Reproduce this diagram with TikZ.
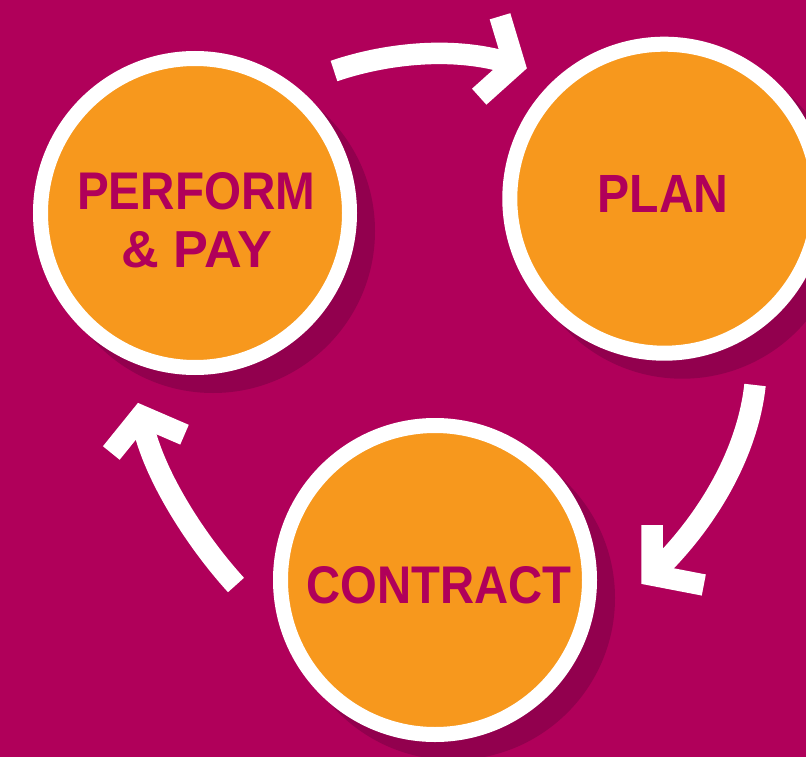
\documentclass[tikz,border=0pt]{standalone}
\usepackage{fontspec}
\setmainfont{Liberation Sans}
\usepackage{graphicx}
\definecolor{bg}{HTML}{B0005A}
\definecolor{orng}{HTML}{F7981D}
\definecolor{shad}{HTML}{92004E}
\definecolor{txt}{HTML}{B0005A}
\begin{document}
\begin{tikzpicture}[x=1pt,y=-1pt,
  disc/.style={circle,draw=white,line width=15pt,fill=orng,minimum size=309pt,inner sep=0pt},
  shadowdisc/.style={circle,fill=shad,minimum size=324pt,inner sep=0pt},
  lbl/.style={inner sep=0pt,anchor=south west,text=txt,font=\bfseries},
  shaft/.style={draw=white,line width=21.5pt,line cap=butt},
  barb/.style={draw=white,line width=21.5pt,line cap=butt,line join=miter}]
\useasboundingbox (0,0) rectangle (806,757);
\clip (0,0) rectangle (806,757);
\fill[bg] (0,0) rectangle (806,757);
% shadows
\node[shadowdisc] (performshadow) at (213,231) {};
\node[shadowdisc] (planshadow) at (682.3,216.7) {};
\node[shadowdisc] (contractshadow) at (453,598) {};
% circles
\node[disc] (perform) at (195,213) {};
\node[disc] (plan) at (664.3,198.7) {};
\node[disc] (contract) at (435,580) {};
% labels
\node[lbl] (performA) at (77,210) {\resizebox{238pt}{37pt}{PERFORM}};
\node[lbl] (performB) at (121,268) {\resizebox{151pt}{36pt}{\& PAY}};
\node[lbl] (planlabel) at (597.3,212.7) {\resizebox{131pt}{37pt}{PLAN}};
\node[lbl] (contractlabel) at (306,604) {\resizebox{265pt}{37pt}{CONTRACT}};
% arrow perform -> plan
\coordinate (t1) at (334,71);
\coordinate (v1) at (514.6,64.9);
\coordinate (a1) at (500,16.3);
\coordinate (b1) at (479.2,96.7);
\draw[shaft] (t1) .. controls (390,52) and (460,46) .. (v1);
\draw[barb] (a1) -- (v1) -- (b1);
% arrow plan -> contract
\coordinate (t2) at (755,385);
\coordinate (v2) at (652,575);
\coordinate (a2) at (652,525);
\coordinate (b2) at (703.8,585);
\draw[shaft] (t2) .. controls (748,450) and (710,520) .. (v2);
\draw[barb] (a2) -- (v2) -- (b2);
% arrow contract -> perform
\coordinate (t3) at (236,585);
\coordinate (v3) at (141.2,416);
\coordinate (a3) at (111.3,453);
\coordinate (b3) at (184.5,434.7);
\draw[shaft] (t3) .. controls (195,540) and (150,470) .. (v3);
\draw[barb] (a3) -- (v3) -- (b3);
\end{tikzpicture}
\end{document}
